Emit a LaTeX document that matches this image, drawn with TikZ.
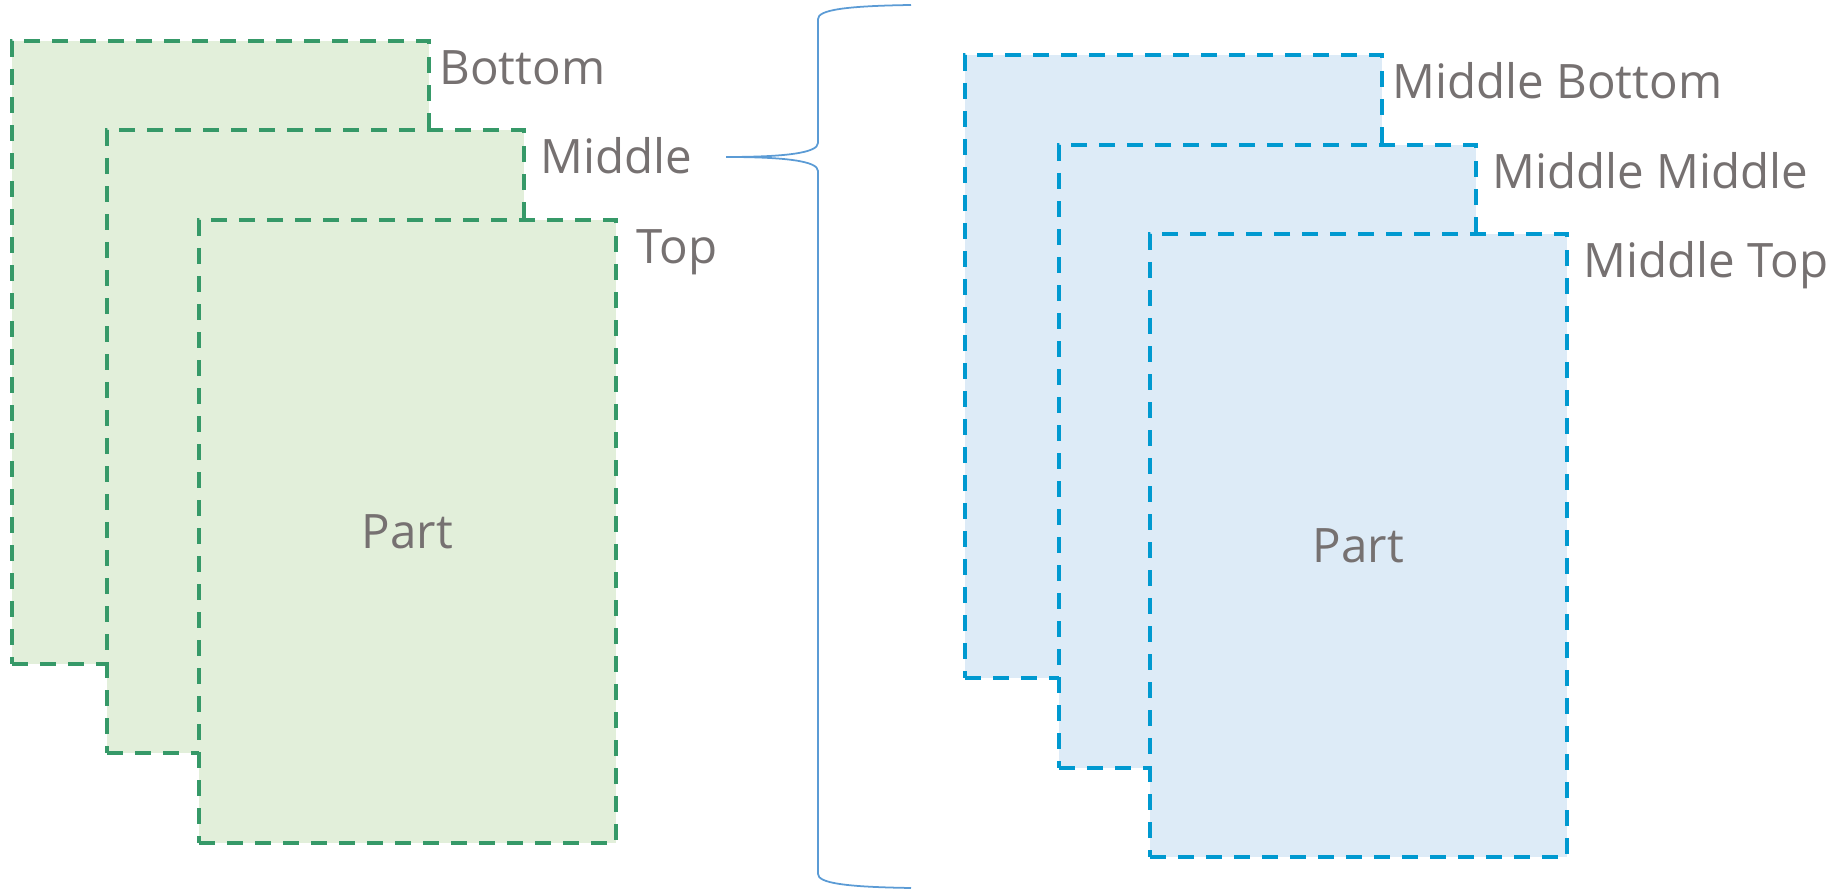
\documentclass[tikz,border=0pt]{standalone}
\usepackage{fontspec}
\setmainfont{Open Sans}
\usetikzlibrary{positioning,calc}
\definecolor{layergreen}{RGB}{54,153,104}
\definecolor{layergreenfill}{RGB}{226,239,218}
\definecolor{layerblue}{RGB}{0,153,208}
\definecolor{layerbluefill}{RGB}{221,235,247}
\definecolor{bracecol}{RGB}{91,155,213}
\definecolor{textgray}{RGB}{118,113,113}
\tikzset{
    layer/.style={draw, rectangle, line width=1.2pt, dash pattern=on 0.16cm off 0.12cm,
        minimum width=4.165cm, minimum height=6.23cm, inner sep=0pt, outer sep=0pt, anchor=north west},
    greenlayer/.style={layer, draw=layergreen, fill=layergreenfill},
    bluelayer/.style={layer, draw=layerblue, fill=layerbluefill},
    lbl/.style={text=textgray, font=\fontsize{13.5}{16}\selectfont, inner sep=0pt, anchor=base west},
    parttext/.style={text=textgray, font=\fontsize{13.5}{16}\selectfont, inner sep=0pt}
}

\begin{document}
\begin{tikzpicture}[x=0.01cm, y=-0.01cm]
                \useasboundingbox (0,0) rectangle (1844,889);

                % left stack
                \node[greenlayer] (g1) at (12,41) {};
                \node[greenlayer] (g2) at (107,130) {};
                \node[greenlayer] (g3) at (199,220) {};
                \node[parttext] (gpart) at (g3.center) {Part};
                \node[lbl] (gbot) at ($(g1.north east)+(10,44)$) {Bottom};
                \node[lbl] (gmid) at ($(g2.north east)+(16,44)$) {Middle};
                \node[lbl] (gtop) at ($(g3.north east)+(20,44)$) {Top};

                % right stack
                \node[bluelayer] (b1) at (965,55) {};
                \node[bluelayer] (b2) at (1059,145) {};
                \node[bluelayer] (b3) at (1150,234) {};
                \node[parttext] (bpart) at (b3.center) {Part};
                \node[lbl] (bbot) at ($(b1.north east)+(10,44)$) {Middle Bottom};
                \node[lbl] (bmid) at ($(b2.north east)+(16,44)$) {Middle Middle};
                \node[lbl] (btop) at ($(b3.north east)+(16,44)$) {Middle Top};

                % brace
                \coordinate (brtop) at (911,5);
                \coordinate (brtip) at (726,157);
                \coordinate (brbot) at (911,888);
                \draw[bracecol, line width=0.5pt]
                    (brtop) .. controls (845,6) and (818,10) .. (818,19) -- (818,143)
                    .. controls (818,153) and (785,157) .. (brtip)
                    .. controls (785,157) and (818,161) .. (818,171) -- (818,874)
                    .. controls (818,883) and (845,887) .. (brbot);
            \end{tikzpicture}
\end{document}
